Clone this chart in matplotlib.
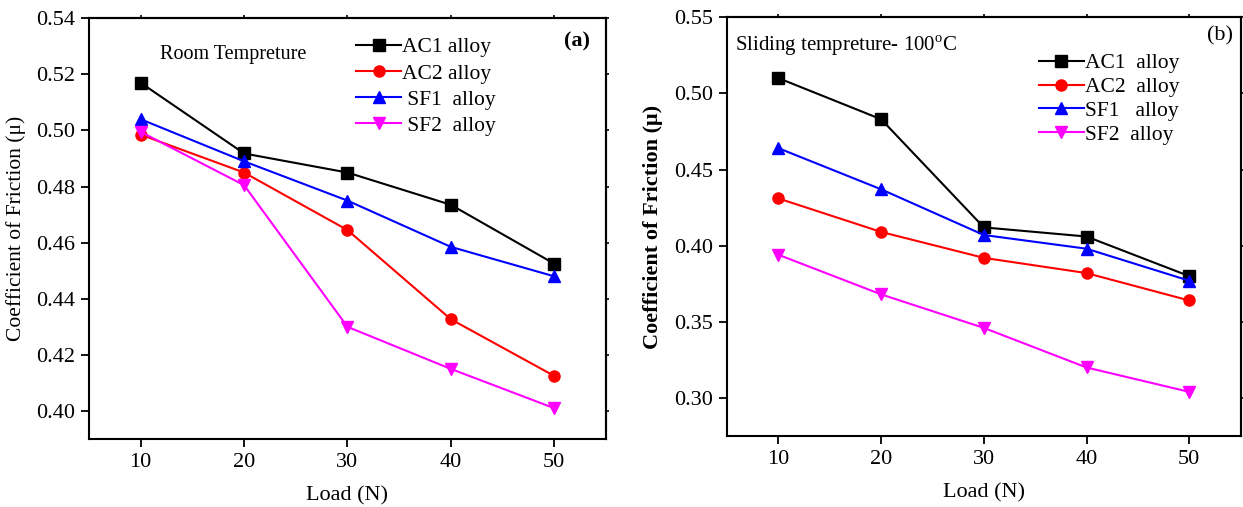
import numpy as np
import matplotlib
matplotlib.use("Agg")
import matplotlib.pyplot as plt
import matplotlib.ticker as ticker

plt.rcParams["font.family"] = ["Liberation Serif", "DejaVu Serif"]
plt.rcParams["mathtext.fontset"] = "stix"

# ---------------------------------------------------------------------------
# Data
# ---------------------------------------------------------------------------
load = [10, 20, 30, 40, 50]

# (a) room temperature
ac1_a = [0.517, 0.4918, 0.485, 0.4735, 0.4525]
ac2_a = [0.4985, 0.485, 0.4645, 0.4327, 0.4125]
sf1_a = [0.504, 0.489, 0.475, 0.4585, 0.448]
sf2_a = [0.4995, 0.4805, 0.430, 0.415, 0.401]
labels_a = ["AC1 alloy", "AC2 alloy", " SF1  alloy", " SF2  alloy"]

# (b) 100 C
ac1_b = [0.510, 0.483, 0.412, 0.406, 0.380]
ac2_b = [0.431, 0.409, 0.392, 0.382, 0.364]
sf1_b = [0.464, 0.437, 0.407, 0.398, 0.377]
sf2_b = [0.394, 0.368, 0.346, 0.320, 0.304]
labels_b = ["AC1  alloy", "AC2  alloy", "SF1   alloy", "SF2  alloy"]

colors = ["black", "#ff0000", "#0000ff", "#ff00ff"]
markers = ["s", "o", "^", "v"]


def style_axes(ax, yticks):
    for sp in ax.spines.values():
        sp.set_linewidth(1.5)
    ax.tick_params(axis="both", direction="out", length=6, width=1.3,
                   labelsize=16, pad=4)
    # tiny mirror ticks on top / right
    top = ax.secondary_xaxis("top")
    top.set_xticks(load)
    top.tick_params(length=2.5, width=1.2, labeltop=False)
    right = ax.secondary_yaxis("right")
    right.set_yticks(yticks)
    right.tick_params(length=2.5, width=1.2, labelright=False)
    top.spines["top"].set_linewidth(1.5)
    right.spines["right"].set_linewidth(1.5)


def draw(ax, series, labels):
    for ys, c, m, lab in zip(series, colors, markers, labels):
        ax.plot(load, ys, color=c, marker=m, markersize=8, linewidth=1.5, label=lab)


fig = plt.figure(figsize=(12.43, 5.07), dpi=100)

# ---------------------------------------------------------------------------
# Panel (a)
# ---------------------------------------------------------------------------
ax1 = fig.add_axes([0.0716, 0.134, 0.4159, 0.830])
draw(ax1, [ac1_a, ac2_a, sf1_a, sf2_a], labels_a)
ax1.set_xlim(5, 55)
ax1.set_ylim(0.39, 0.54)
ax1.set_xticks(load)
yt_a = np.arange(0.40, 0.541, 0.02)
ax1.set_yticks(yt_a)
ax1.yaxis.set_major_formatter(ticker.FormatStrFormatter("%.2f"))
style_axes(ax1, yt_a)
ax1.set_xlabel("Load (N)", fontsize=16, labelpad=10)
ax1.set_ylabel("Coefficient of Friction (\u03bc)", fontsize=15.5, labelpad=7)
ax1.text(0.137, 0.915, "Room Tempreture", transform=ax1.transAxes, fontsize=14.5,
         ha="left", va="center")
ax1.text(0.97, 0.945, "(a)", transform=ax1.transAxes, fontsize=16,
         fontweight="bold", ha="right", va="center")
ax1.legend(loc="upper left", bbox_to_anchor=(0.5, 0.975), frameon=False,
           fontsize=15.5, handlelength=2.1, handletextpad=0.05,
           labelspacing=0.28, borderaxespad=0)

# ---------------------------------------------------------------------------
# Panel (b)
# ---------------------------------------------------------------------------
ax2 = fig.add_axes([0.585, 0.140, 0.413, 0.826])
draw(ax2, [ac1_b, ac2_b, sf1_b, sf2_b], labels_b)
ax2.set_xlim(5, 55)
ax2.set_ylim(0.275, 0.55)
ax2.set_xticks(load)
yt_b = np.arange(0.30, 0.551, 0.05)
ax2.set_yticks(yt_b)
ax2.yaxis.set_major_formatter(ticker.FormatStrFormatter("%.2f"))
style_axes(ax2, yt_b)
ax2.set_xlabel("Load (N)", fontsize=16, labelpad=10)
ax2.set_ylabel("Coefficient of Friction (\u03bc)", fontsize=16,
               fontweight="bold", labelpad=8)
ax2.text(0.015, 0.93, "Sliding tempreture- 100$^{\\mathregular{o}}$C",
         transform=ax2.transAxes, fontsize=15, ha="left", va="center")
ax2.text(0.985, 0.955, "(b)", transform=ax2.transAxes, fontsize=16,
         ha="right", va="center")
ax2.legend(loc="upper left", bbox_to_anchor=(0.59, 0.935), frameon=False,
           fontsize=15.5, handlelength=2.1, handletextpad=0.05,
           labelspacing=0.18, borderaxespad=0)

fig.savefig("out.png", dpi=100)
